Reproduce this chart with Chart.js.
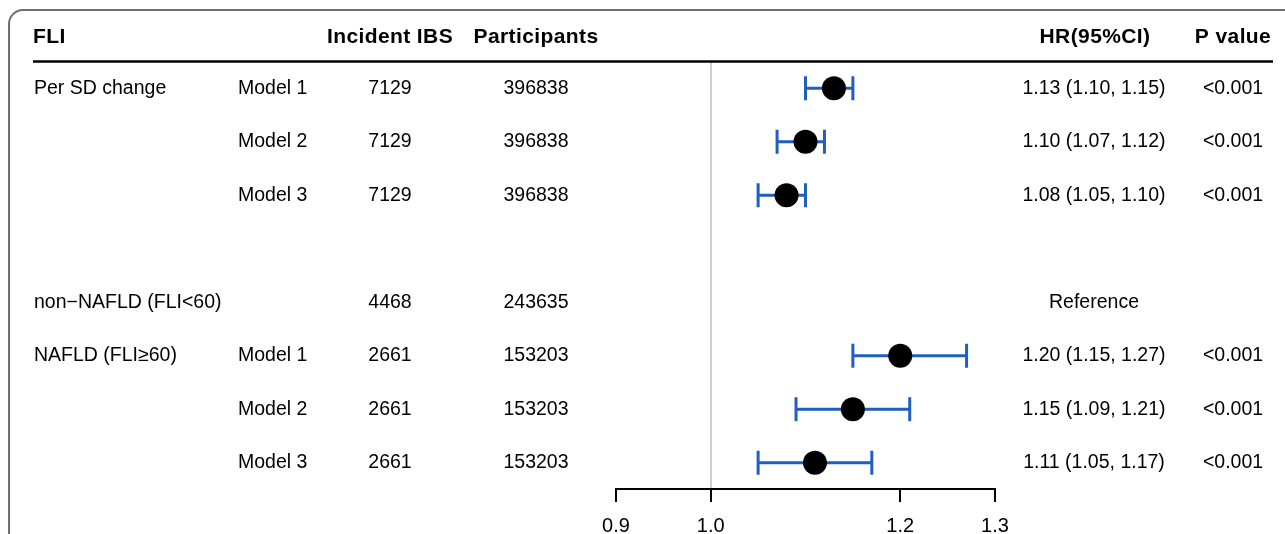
<!DOCTYPE html>
<html>
<head>
<meta charset="utf-8">
<script src="https://cdn.jsdelivr.net/npm/chart.js@4"></script>
<style>
  html, body { margin: 0; padding: 0; background: #fff; }
  #wrap { width: 1285px; height: 534px; }
</style>
</head>
<body>
<div id="wrap"><canvas id="forest" width="1285" height="534"></canvas></div>
<script>
// rows, top to bottom
const groups = ['Per SD change', '', '', '', 'non\u2212NAFLD (FLI<60)', 'NAFLD (FLI\u226560)', '', ''];
const models = ['Model 1', 'Model 2', 'Model 3', '', '', 'Model 1', 'Model 2', 'Model 3'];
const incident = ['7129', '7129', '7129', '', '4468', '2661', '2661', '2661'];
const participants = ['396838', '396838', '396838', '', '243635', '153203', '153203', '153203'];
const hr = [1.13, 1.10, 1.08, null, null, 1.20, 1.15, 1.11];
const lower = [1.10, 1.07, 1.05, null, null, 1.15, 1.09, 1.05];
const upper = [1.15, 1.12, 1.10, null, null, 1.27, 1.21, 1.17];
const hrText = ['1.13 (1.10, 1.15)', '1.10 (1.07, 1.12)', '1.08 (1.05, 1.10)', '', 'Reference',
                '1.20 (1.15, 1.27)', '1.15 (1.09, 1.21)', '1.11 (1.05, 1.17)'];
const pValues = ['<0.001', '<0.001', '<0.001', '', '', '<0.001', '<0.001', '<0.001'];
const xTicks = [0.9, 1.0, 1.2, 1.3];
const headers = ['FLI', 'Incident IBS', 'Participants', 'HR(95%CI)', 'P value'];

const FONT = '"Liberation Sans", Arial, sans-serif';
const CI_COLOR = '#1f5fbf';

const pointData = hr.map((v, i) => v == null ? null : { x: v, y: i }).filter(p => p);

const framePlugin = {
    id: 'frame',
    beforeDraw(chart) {
        const ctx = chart.ctx;
        ctx.save();
        ctx.strokeStyle = '#6e6e6e';
        ctx.lineWidth = 2;
        ctx.beginPath();
        ctx.roundRect(9, 10, 1400, 600, 14);
        ctx.stroke();
        ctx.restore();
    }
};

// confidence intervals with end caps, behind the points
const ciPlugin = {
    id: 'ciBars',
    beforeDatasetsDraw(chart) {
        const ctx = chart.ctx;
        const xs = chart.scales.x;
        const ys = chart.scales.y;
        ctx.save();
        ctx.strokeStyle = CI_COLOR;
        ctx.lineWidth = 3;
        hr.forEach((v, i) => {
            if (v == null) return;
            const y = ys.getPixelForValue(i);
            const x1 = xs.getPixelForValue(lower[i]);
            const x2 = xs.getPixelForValue(upper[i]);
            ctx.beginPath();
            ctx.moveTo(x1, y);
            ctx.lineTo(x2, y);
            ctx.moveTo(x1, y - 12);
            ctx.lineTo(x1, y + 12);
            ctx.moveTo(x2, y - 12);
            ctx.lineTo(x2, y + 12);
            ctx.stroke();
        });
        ctx.restore();
    }
};

// table text around the plot
const tablePlugin = {
    id: 'table',
    afterDraw(chart) {
        const ctx = chart.ctx;
        const ys = chart.scales.y;
        ctx.save();
        ctx.fillStyle = '#000';
        ctx.textBaseline = 'middle';

        // header
        ctx.font = 'bold 21px ' + FONT;
        ctx.letterSpacing = '0.4px';
        const hy = 37;
        ctx.textAlign = 'left';
        ctx.fillText(headers[0], 33, hy);
        ctx.textAlign = 'center';
        ctx.fillText(headers[1], 390, hy);
        ctx.fillText(headers[2], 536, hy);
        ctx.fillText(headers[3], 1095, hy);
        ctx.fillText(headers[4], 1233, hy);
        ctx.letterSpacing = '0px';

        ctx.strokeStyle = '#000';
        ctx.lineWidth = 2.5;
        ctx.beginPath();
        ctx.moveTo(33, 61.5);
        ctx.lineTo(1273, 61.5);
        ctx.stroke();

        ctx.font = '19.5px ' + FONT;
        groups.forEach((g, i) => {
            const y = ys.getPixelForValue(i);
            ctx.textAlign = 'left';
            ctx.fillText(g, 34, y);
            ctx.fillText(models[i], 238, y);
            ctx.textAlign = 'center';
            ctx.fillText(incident[i], 390, y);
            ctx.fillText(participants[i], 536, y);
            ctx.fillText(hrText[i], 1094, y);
            ctx.fillText(pValues[i], 1233, y);
        });
        ctx.restore();
    }
};

new Chart(document.getElementById('forest'), {
    type: 'scatter',
    data: {
        datasets: [{
            label: 'HR',
            data: pointData,
            pointRadius: 12,
            pointHoverRadius: 12,
            pointBackgroundColor: '#000',
            pointBorderColor: '#000',
            pointBorderWidth: 0
        }]
    },
    options: {
        responsive: false,
        animation: false,
        layout: {
            padding: { left: 616, right: 290, top: 62, bottom: 0 }
        },
        plugins: {
            legend: { display: false },
            tooltip: { enabled: false }
        },
        scales: {
            x: {
                type: 'linear',
                min: 0.9,
                max: 1.3,
                afterBuildTicks: (scale) => {
                    scale.ticks = xTicks.map(v => ({ value: v }));
                },
                afterFit: (scale) => {
                    scale.height = 45;
                },
                ticks: {
                    color: '#000',
                    padding: 12,
                    maxRotation: 0,
                    font: { family: FONT, size: 20 },
                    callback: (v) => v.toFixed(1)
                },
                grid: {
                    drawOnChartArea: true,
                    color: (c) => (c.tick && Math.abs(c.tick.value - 1) < 1e-9) ? '#cfcfcf' : 'rgba(0,0,0,0)',
                    tickColor: '#000',
                    tickLength: 13,
                    lineWidth: 2
                },
                border: { color: '#000', width: 2 }
            },
            y: {
                type: 'linear',
                min: -0.49,
                max: 7.49,
                reverse: true,
                display: false
            }
        }
    },
    plugins: [framePlugin, ciPlugin, tablePlugin]
});
</script>
</body>
</html>
